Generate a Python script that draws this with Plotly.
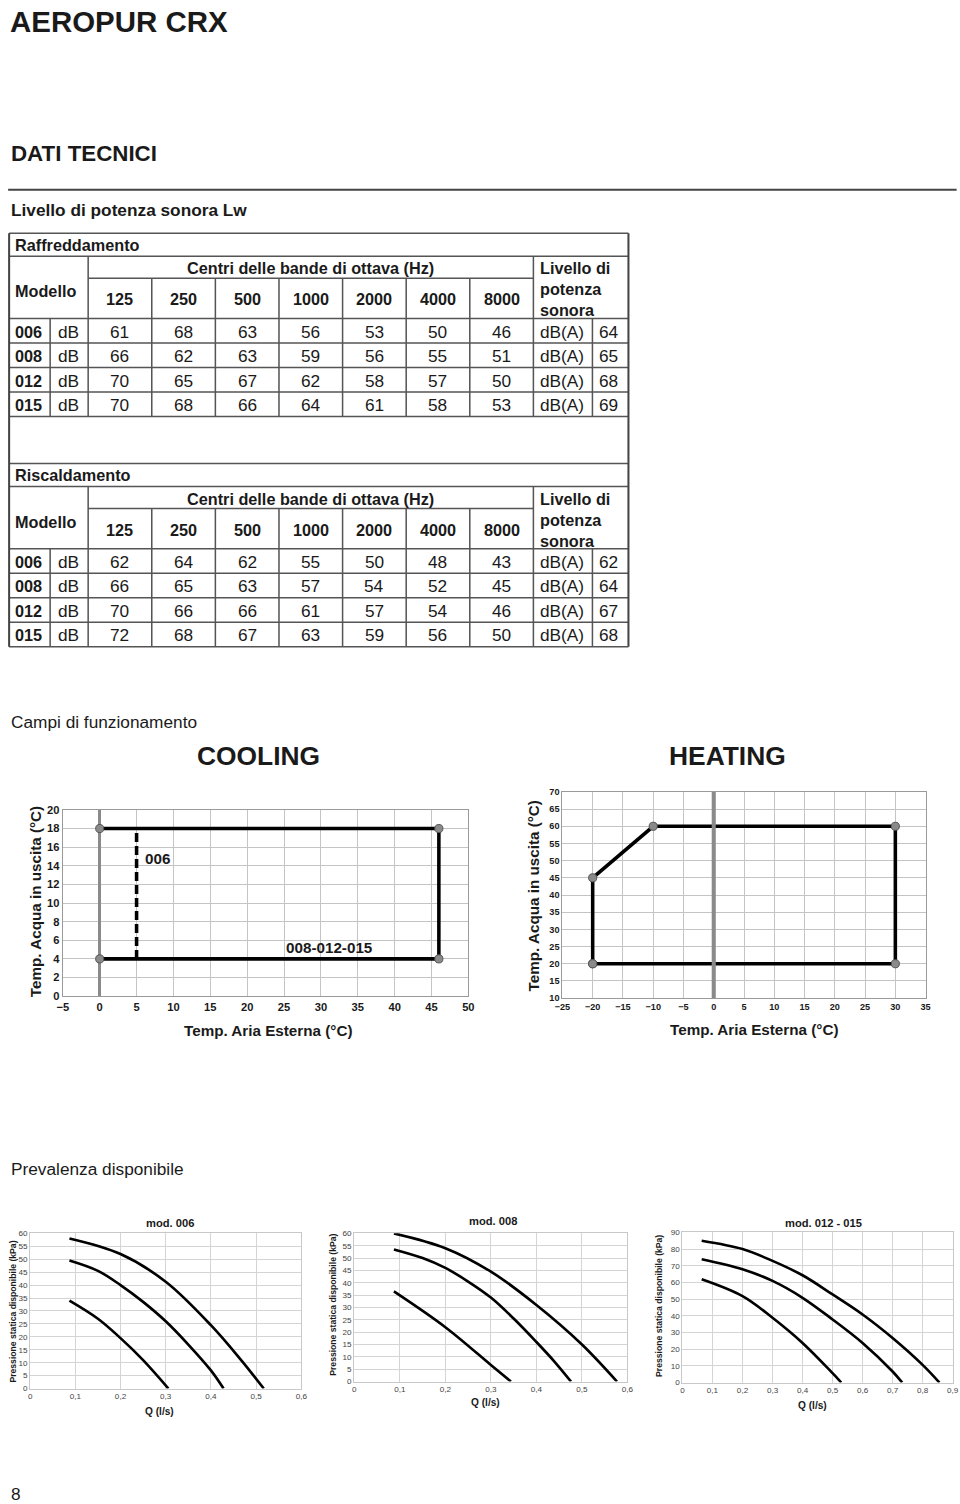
import plotly.graph_objects as go

# Calibration of the screenshot pipeline: the page keeps an 8px body margin and the
# photograph comes out slightly shrunk, so page coordinates are pre-compensated.
SX, SY = 0.985, 0.991
OX, OY = 8, 8
FW, FH = 967, 1510
def X(px): return (px / SX - OX) / FW
def Y(py): return 1 - (py / SY - OY) / FH
FS = 1 / SX  # font/size compensation

FONT = "Liberation Sans, Arial, sans-serif"

# ---------------- data ----------------
models = ["006", "008", "012", "015"]
bands = ["125", "250", "500", "1000", "2000", "4000", "8000"]
cool_db = [[61, 68, 63, 56, 53, 50, 46],
           [66, 62, 63, 59, 56, 55, 51],
           [70, 65, 67, 62, 58, 57, 50],
           [70, 68, 66, 64, 61, 58, 53]]
cool_dba = [64, 65, 68, 69]
heat_db = [[62, 64, 62, 55, 50, 48, 43],
           [66, 65, 63, 57, 54, 52, 45],
           [70, 66, 66, 61, 57, 54, 46],
           [72, 68, 67, 63, 59, 56, 50]]
heat_dba = [62, 64, 67, 68]

# operating limits
cool_x = [0, 46, 46, 0]
cool_y = [18, 18, 4, 4]
cool006_x = [5, 5]
cool006_y = [4, 18]
heat_x = [-20, -20, -10, 30, 30, -20]
heat_y = [20, 45, 60, 60, 20, 20]

# pump curves (Q l/s, kPa)
p006_hi_x = [0.087, 0.2, 0.3, 0.4, 0.466, 0.517]
p006_hi_y = [58, 52, 41.3, 24.5, 11.2, 0]
p006_md_x = [0.087, 0.15, 0.2, 0.25, 0.3, 0.35, 0.4, 0.428]
p006_md_y = [49.5, 45.5, 40, 33.5, 26, 17, 7, 0]
p006_lo_x = [0.087, 0.15, 0.2, 0.25, 0.306]
p006_lo_y = [34, 27, 19.5, 11, 0]

p008_hi_x = [0.087, 0.2, 0.3, 0.4, 0.5, 0.577]
p008_hi_y = [60, 54, 44.5, 31, 15, 0]
p008_md_x = [0.087, 0.15, 0.2, 0.25, 0.3, 0.35, 0.4, 0.44, 0.476]
p008_md_y = [53.5, 50, 46, 40.5, 34, 25.5, 16, 8, 0]
p008_lo_x = [0.087, 0.2, 0.3, 0.344]
p008_lo_y = [36.5, 22, 6.7, 0]

p012_hi_x = [0.064, 0.2, 0.3, 0.4, 0.5, 0.6, 0.7, 0.8, 0.856]
p012_hi_y = [85, 80, 72.9, 64.3, 52.8, 40.8, 26.7, 10.6, 0]
p012_md_x = [0.064, 0.2, 0.3, 0.4, 0.5, 0.6, 0.7, 0.732]
p012_md_y = [73.9, 67.9, 60.9, 50.8, 37.8, 23.7, 6.6, 0]
p012_lo_x = [0.064, 0.2, 0.3, 0.4, 0.5, 0.529]
p012_lo_y = [61.9, 51.8, 38.8, 23.7, 5.6, 0]

# ---------------- figure ----------------
fig = go.Figure()
shapes = []
ann = []

def hline(y, x0, x1, color="#555", width=1.5):
    shapes.append(dict(type="line", xref="paper", yref="paper",
                       x0=X(x0), x1=X(x1), y0=Y(y), y1=Y(y),
                       line=dict(color=color, width=width * FS)))

def vline(x, y0, y1, color="#555", width=1.5):
    shapes.append(dict(type="line", xref="paper", yref="paper",
                       x0=X(x), x1=X(x), y0=Y(y0), y1=Y(y1),
                       line=dict(color=color, width=width * FS)))

def text(t, x, y, size=16, bold=False, xanchor="left", color="#1a1a1a",
         family=FONT, angle=0, align="left"):
    ann.append(dict(text=t, x=X(x), y=Y(y), xref="paper", yref="paper",
                    xanchor=xanchor, yanchor="middle", showarrow=False,
                    textangle=angle, align=align,
                    font=dict(family=family, size=size * FS, color=color,
                              weight="bold" if bold else "normal")))

LEFT = 8.5  # leftmost drawable picture x

# page headings
text("AEROPUR CRX", LEFT - 0.5, 23, size=29, bold=True)
text("DATI TECNICI", LEFT, 155, size=22, bold=True)
hline(191.5, LEFT - 0.5, 956, color="#444", width=2)
text("Livello di potenza sonora Lw", LEFT, 212, size=17, bold=True)

# tables
L, C1, C2, C7, C8, R = 9, 50, 88, 533, 592, 628
colw = (C7 - C2) / 7

def draw_table(top, title, vals, totals):
    y_t = top + 23
    y_in = top + 45
    y_hb = top + 85
    rh = 24.5
    bottom = y_hb + 4 * rh
    hline(top, L, R)
    hline(y_t, L, R)
    hline(y_in, C2, C7)
    hline(y_hb, L, R)
    for k in range(1, 5):
        hline(y_hb + k * rh, L, R)
    vline(C1, y_hb, bottom)
    vline(C2, y_t, bottom)
    for i in range(1, 7):
        vline(C2 + i * colw, y_in, bottom)
    vline(C7, y_t, bottom)
    vline(C8, y_hb, bottom)
    text(title, L + 4, top + 11.5, size=16, bold=True)
    text("Modello", L + 4, top + 58, size=16, bold=True)
    text("Centri delle bande di ottava (Hz)", (C2 + C7) / 2, top + 35,
         size=16, bold=True, xanchor="center")
    for i, b in enumerate(bands):
        text(b, C2 + (i + 0.5) * colw, top + 66, size=16, bold=True, xanchor="center")
    text("Livello di<br>potenza<br>sonora", C7 + 5, top + 56, size=16, bold=True)
    for r, m in enumerate(models):
        yc = y_hb + (r + 0.5) * rh + 1
        text(m, L + 4, yc, size=16, bold=True)
        text("dB", 56, yc, size=17)
        for i, v in enumerate(vals[r]):
            text(str(v), C2 + (i + 0.5) * colw, yc, size=17, xanchor="center")
        text("dB(A)", C7 + 5, yc, size=17)
        text(str(totals[r]), C8 + 5, yc, size=17)

draw_table(235, "Raffreddamento", cool_db, cool_dba)
draw_table(465, "Riscaldamento", heat_db, heat_dba)
vline(L, 235, 648, color="#444", width=2)
vline(R, 235, 648, color="#444", width=2)

# section: operating ranges
text("Campi di funzionamento", LEFT, 723, size=17)
text("COOLING", 258, 757, size=26, bold=True, xanchor="center")
text("HEATING", 727, 757, size=26, bold=True, xanchor="center")

# cooling chart
fig.add_trace(go.Scatter(x=cool_x, y=cool_y, mode="lines+markers", xaxis="x", yaxis="y",
                         line=dict(color="black", width=3.5 * FS),
                         marker=dict(size=8 * FS, color="#8a8a8a", line=dict(color="#555", width=1))))
fig.add_trace(go.Scatter(x=cool006_x, y=cool006_y, mode="lines", xaxis="x", yaxis="y",
                         line=dict(color="black", width=3.5 * FS, dash="9px,4px")))
ann.append(dict(text="006", x=5.9, y=14.8, xref="x", yref="y", xanchor="left",
                showarrow=False, font=dict(family=FONT, size=15 * FS, color="#1a1a1a", weight="bold")))
ann.append(dict(text="008-012-015", x=31.2, y=5.2, xref="x", yref="y", xanchor="center",
                showarrow=False, font=dict(family=FONT, size=15 * FS, color="#1a1a1a", weight="bold")))
text("Temp. Aria Esterna (°C)", 268, 1031, size=15, bold=True, xanchor="center")
text("Temp. Acqua in uscita (°C)", 35, 903, size=15, bold=True, xanchor="center", angle=-90)

# heating chart
fig.add_trace(go.Scatter(x=heat_x, y=heat_y, mode="lines+markers", xaxis="x2", yaxis="y2",
                         line=dict(color="black", width=3.5 * FS),
                         marker=dict(size=8 * FS, color="#8a8a8a", line=dict(color="#555", width=1))))
# gray 0 °C reference line drawn over the envelope, as in the original
shapes.append(dict(type="line", xref="x2", yref="y2 domain", x0=0, x1=0, y0=0, y1=1,
                   layer="above", line=dict(color="#8a8a8a", width=4 * FS)))
text("Temp. Aria Esterna (°C)", 753, 1030, size=15, bold=True, xanchor="center")
text("Temp. Acqua in uscita (°C)", 533, 897, size=15, bold=True, xanchor="center", angle=-90)

# pump curves
text("Prevalenza disponibile", LEFT, 1170, size=17)
pumps = [
    ("x3", "y3", [(p006_hi_x, p006_hi_y), (p006_md_x, p006_md_y), (p006_lo_x, p006_lo_y)]),
    ("x4", "y4", [(p008_hi_x, p008_hi_y), (p008_md_x, p008_md_y), (p008_lo_x, p008_lo_y)]),
    ("x5", "y5", [(p012_hi_x, p012_hi_y), (p012_md_x, p012_md_y), (p012_lo_x, p012_lo_y)]),
]
for xa, ya, curves in pumps:
    for cx, cy in curves:
        fig.add_trace(go.Scatter(x=cx, y=cy, mode="lines", xaxis=xa, yaxis=ya,
                                 line=dict(color="black", width=2.6 * FS, shape="spline", smoothing=1.0)))

text("mod. 006", 170, 1224, size=11, bold=True, xanchor="center")
text("mod. 008", 493, 1222, size=11, bold=True, xanchor="center")
text("mod. 012 - 015", 823, 1224, size=11, bold=True, xanchor="center")
text("Q (l/s)", 159, 1412, size=10, bold=True, xanchor="center")
text("Q (l/s)", 485, 1403, size=10, bold=True, xanchor="center")
text("Q (l/s)", 812, 1406, size=10, bold=True, xanchor="center")
YT = "Pressione statica disponibile (kPa)"
text(YT, 13, 1312, size=8.5, bold=True, xanchor="center", angle=-90)
text(YT, 333, 1305, size=8.5, bold=True, xanchor="center", angle=-90)
text(YT, 659, 1306, size=8.5, bold=True, xanchor="center", angle=-90)

text("8", LEFT, 1494, size=17)

# ---------------- axes ----------------
def ax(domain, rng, dtick, anchor, tsize, tbold, grid, line, lw=1.2, zero=False,
       zc="#8a8a8a", zw=2.5, tcolor="#1a1a1a"):
    return dict(domain=domain, range=rng, dtick=dtick, tick0=0, anchor=anchor,
                showgrid=True, gridcolor=grid, gridwidth=1,
                showline=True, linecolor=line, linewidth=lw, mirror=True,
                zeroline=zero, zerolinecolor=zc, zerolinewidth=zw * FS,
                ticks="", fixedrange=True,
                tickfont=dict(family=FONT, size=tsize * FS, color=tcolor,
                              weight="bold" if tbold else "normal"))

layout_axes = dict(
    xaxis=ax([X(62.7), X(468)], [-5, 50], 5, "y", 11, True, "#c4c4c4", "#9a9a9a", zero=True),
    yaxis=ax([Y(997), Y(811)], [0, 20], 2, "x", 11, True, "#c4c4c4", "#9a9a9a"),
    xaxis2=ax([X(562), X(925)], [-25, 35], 5, "y2", 9, True, "#c4c4c4", "#9a9a9a"),
    yaxis2=ax([Y(999), Y(793)], [10, 70], 5, "x2", 9, True, "#c4c4c4", "#9a9a9a"),
    xaxis3=ax([X(30), X(301)], [0, 0.6], 0.1, "y3", 8, False, "#d4d4d4", "#c8c8c8", tcolor="#444"),
    yaxis3=ax([Y(1389), Y(1234)], [0, 60], 5, "x3", 8, False, "#d4d4d4", "#c8c8c8", tcolor="#444"),
    xaxis4=ax([X(354), X(627)], [0, 0.6], 0.1, "y4", 8, False, "#d4d4d4", "#c8c8c8", tcolor="#444"),
    yaxis4=ax([Y(1382), Y(1234)], [0, 60], 5, "x4", 8, False, "#d4d4d4", "#c8c8c8", tcolor="#444"),
    xaxis5=ax([X(682), X(952)], [0, 0.9], 0.1, "y5", 8, False, "#d4d4d4", "#c8c8c8", tcolor="#444"),
    yaxis5=ax([Y(1383), Y(1233)], [0, 90], 10, "x5", 8, False, "#d4d4d4", "#c8c8c8", tcolor="#444"),
)

fig.update_layout(
    width=FW, height=FH, margin=dict(l=0, r=0, t=0, b=0, pad=0),
    paper_bgcolor="white", plot_bgcolor="white", showlegend=False,
    separators=",.", font=dict(family=FONT, color="#1a1a1a"),
    shapes=shapes, annotations=ann, **layout_axes)

fig.write_html("out.html", config={"displayModeBar": False})
